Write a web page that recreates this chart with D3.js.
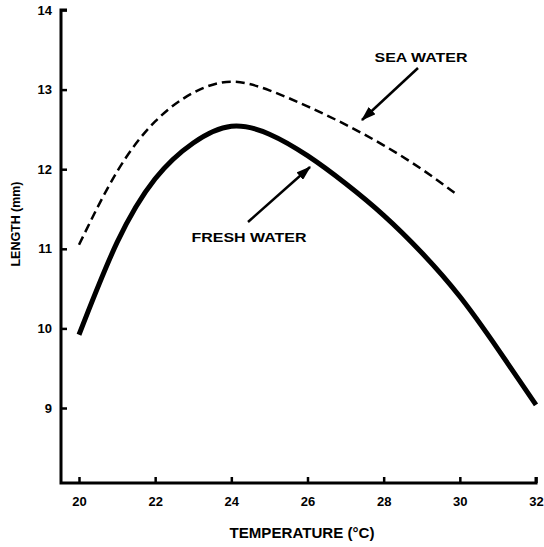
<!DOCTYPE html>
<html>
<head>
<meta charset="utf-8">
<script src="https://cdn.jsdelivr.net/npm/d3@7"></script>
<style>
  body { margin: 0; background: #fff; }
  text { font-family: "Liberation Sans", Arial, sans-serif; font-weight: bold; fill: #000; }
</style>
</head>
<body>
<div id="chart"></div>
<script>
// Values
const freshTemp = [20, 21, 22, 23, 24, 25, 26, 27, 28, 29, 30, 31, 32];
const freshLength = [9.92, 11.08, 11.88, 12.33, 12.54, 12.44, 12.17, 11.82, 11.42, 10.95, 10.4, 9.74, 9.04];

const seaTemp = [20, 21, 22, 23, 24, 25, 26, 27, 28, 29, 29.9];
const seaLength = [11.05, 11.97, 12.6, 12.96, 13.1, 12.99, 12.79, 12.56, 12.3, 12.0, 11.69];

const xTicks = [20, 22, 24, 26, 28, 30, 32];
const yTicks = [9, 10, 11, 12, 13, 14];

const width = 544, height = 547;
const axisX = 61, axisY = 483;

const svg = d3.select("#chart")
    .append("svg")
    .attr("width", width)
    .attr("height", height);

const x = d3.scaleLinear().domain([20, 32]).range([79, 536]);
const y = d3.scaleLinear().domain([9, 14]).range([408, 10]);

// axes (ticks point inward)
const yAxis = svg.append("g")
    .attr("transform", `translate(${axisX},0)`)
    .call(d3.axisLeft(y).tickValues(yTicks).tickSize(-6).tickPadding(9).tickFormat(d3.format("d")));
yAxis.select(".domain").remove();
yAxis.selectAll("line").attr("stroke", "#000").attr("stroke-width", 2.5);
yAxis.selectAll("text").style("font-size", "13px");

const xAxis = svg.append("g")
    .attr("transform", `translate(0,${axisY})`)
    .call(d3.axisBottom(x).tickValues(xTicks).tickSize(-6).tickPadding(14).tickFormat(d3.format("d")));
xAxis.select(".domain").remove();
xAxis.selectAll("line").attr("stroke", "#000").attr("stroke-width", 2.5);
xAxis.selectAll("text").style("font-size", "13px");

// axis lines with the small hooks at the ends
svg.append("path")
    .attr("d", `M${axisX + 6},${y(14)} H${axisX} V${axisY} H${x(32)} V${axisY - 6}`)
    .attr("fill", "none")
    .attr("stroke", "#000")
    .attr("stroke-width", 3);

// axis titles
svg.append("text")
    .attr("x", 302)
    .attr("y", 538)
    .attr("text-anchor", "middle")
    .style("font-size", "14px")
    .attr("textLength", 145)
    .attr("lengthAdjust", "spacingAndGlyphs")
    .text("TEMPERATURE (°C)");

svg.append("text")
    .attr("transform", "translate(20,224) rotate(-90)")
    .attr("text-anchor", "middle")
    .style("font-size", "13px")
    .attr("textLength", 85)
    .attr("lengthAdjust", "spacingAndGlyphs")
    .text("LENGTH (mm)");

// curves
const line = d3.line()
    .x(d => x(d[0]))
    .y(d => y(d[1]))
    .curve(d3.curveNatural);

svg.append("path")
    .datum(d3.zip(seaTemp, seaLength))
    .attr("d", line)
    .attr("fill", "none")
    .attr("stroke", "#000")
    .attr("stroke-width", 2.5)
    .attr("stroke-dasharray", "9,5");

svg.append("path")
    .datum(d3.zip(freshTemp, freshLength))
    .attr("d", line)
    .attr("fill", "none")
    .attr("stroke", "#000")
    .attr("stroke-width", 5);

// labels and arrows
svg.append("defs").append("marker")
    .attr("id", "head")
    .attr("viewBox", "0 0 12 8")
    .attr("refX", 11).attr("refY", 4)
    .attr("markerWidth", 6).attr("markerHeight", 4)
    .attr("orient", "auto")
    .append("path")
    .attr("d", "M0,0 L12,4 L0,8 Z")
    .attr("fill", "#000");

svg.append("line")
    .attr("x1", 418).attr("y1", 68)
    .attr("x2", 362).attr("y2", 120)
    .attr("stroke", "#000").attr("stroke-width", 2.5)
    .attr("marker-end", "url(#head)");

svg.append("line")
    .attr("x1", 248).attr("y1", 222)
    .attr("x2", 310).attr("y2", 167)
    .attr("stroke", "#000").attr("stroke-width", 2.5)
    .attr("marker-end", "url(#head)");

svg.append("text")
    .attr("x", 421).attr("y", 62)
    .attr("text-anchor", "middle")
    .style("font-size", "13px")
    .attr("textLength", 93)
    .attr("lengthAdjust", "spacingAndGlyphs")
    .text("SEA WATER");

svg.append("text")
    .attr("x", 249).attr("y", 242)
    .attr("text-anchor", "middle")
    .style("font-size", "13px")
    .attr("textLength", 115)
    .attr("lengthAdjust", "spacingAndGlyphs")
    .text("FRESH WATER");
</script>
</body>
</html>
